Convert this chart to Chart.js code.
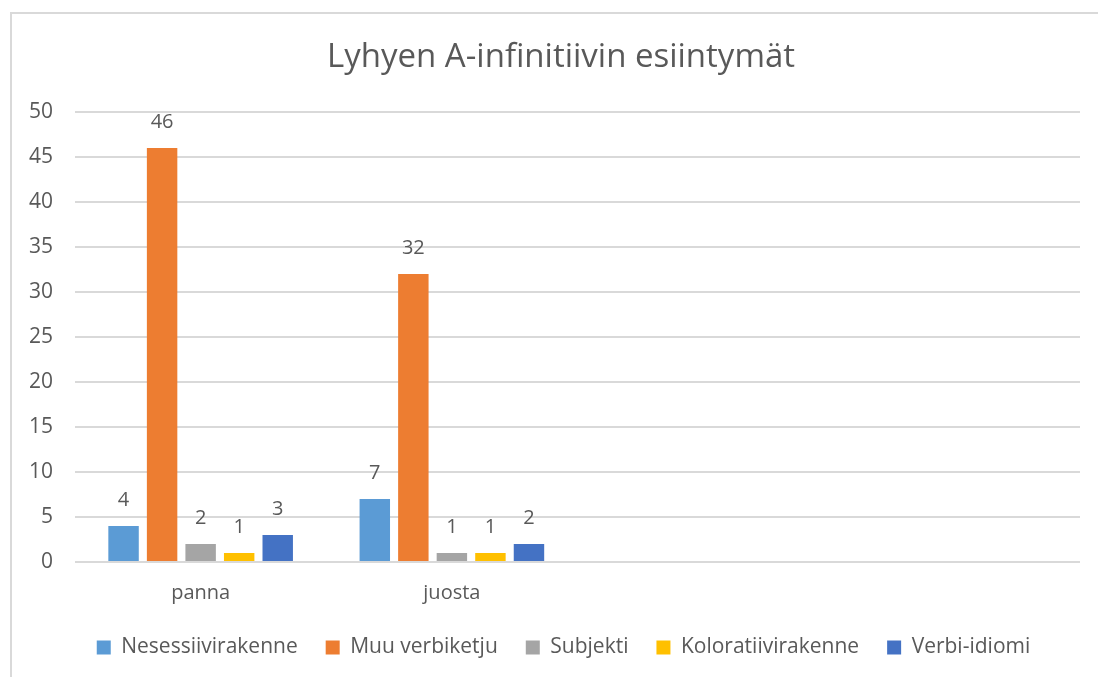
<!DOCTYPE html>
<html>
<head>
<meta charset="utf-8">
<script src="https://cdn.jsdelivr.net/npm/chart.js@4/dist/chart.umd.min.js"></script>
<style>
  html, body { margin: 0; padding: 0; background: #fff; overflow: hidden; }
  #frame { position: absolute; left: 10px; top: 12px; width: 1200px; height: 800px; border: 2px solid #d9d9d9; box-sizing: border-box; pointer-events: none; }
  #wrap { position: absolute; left: 0; top: 0; width: 1098px; height: 677px; }
</style>
</head>
<body>
<div id="wrap"><canvas id="chart"></canvas></div>
<div id="frame"></div>
<script>
const categories = ['panna', 'juosta', '', ''];
const nesessiivi = [4, 7, null, null];
const muuVerbiketju = [46, 32, null, null];
const subjekti = [2, 1, null, null];
const kolorati = [1, 1, null, null];
const verbiIdiomi = [3, 2, null, null];

const titleText = 'Lyhyen A-infinitiivin esiintymät';
const textColor = '#595959';
const fontFamily = '"Open Sans", "Noto Sans", sans-serif';

// values above the bars, the title centred on the frame, legend nudged right
const valueLabels = {
    id: 'valueLabels',
    afterLayout(chart) {
        chart.legend.left += 20;
        chart.legend.right += 20;
    },
    afterDatasetsDraw(chart) {
        const ctx = chart.ctx;
        ctx.save();
        ctx.font = '20px ' + fontFamily;
        ctx.fillStyle = textColor;
        ctx.textAlign = 'center';
        ctx.textBaseline = 'middle';
        chart.data.datasets.forEach((ds, i) => {
            chart.getDatasetMeta(i).data.forEach((bar, j) => {
                const v = ds.data[j];
                if (v === null || v === undefined) return;
                ctx.fillText(String(v), bar.x, bar.y - 26);
            });
        });
        ctx.font = '33px ' + fontFamily;
        ctx.fillText(titleText, 561, 58);
        ctx.restore();
    }
};

const ctx = document.getElementById('chart').getContext('2d');
new Chart(ctx, {
    type: 'bar',
    data: {
        labels: categories,
        datasets: [
            { label: 'Nesessiivirakenne', data: nesessiivi, backgroundColor: '#5B9BD5' },
            { label: 'Muu verbiketju', data: muuVerbiketju, backgroundColor: '#ED7D31' },
            { label: 'Subjekti', data: subjekti, backgroundColor: '#A5A5A5' },
            { label: 'Kolorati­ivirakenne'.replace('\u00ad', ''), data: kolorati, backgroundColor: '#FFC000' },
            { label: 'Verbi-idiomi', data: verbiIdiomi, backgroundColor: '#4472C4' }
        ]
    },
    options: {
        responsive: true,
        maintainAspectRatio: false,
        animation: false,
        datasets: { bar: { categoryPercentage: 0.767, barPercentage: 0.79 } },
        layout: { padding: { left: 7, right: 18, top: 112, bottom: 9 } },
        scales: {
            x: {
                grid: { display: false },
                border: { display: false },
                ticks: { color: textColor, font: { family: fontFamily, size: 20 }, padding: 11 },
                afterFit: (scale) => { scale.height -= 7; }
            },
            y: {
                min: 0, max: 50,
                ticks: { stepSize: 5, color: textColor, font: { family: fontFamily, size: 21 }, padding: 22 },
                grid: { color: '#d9d9d9', lineWidth: 2, drawTicks: false },
                border: { display: false }
            }
        },
        plugins: {
            title: { display: false },
            legend: {
                position: 'bottom',
                labels: {
                    color: textColor,
                    font: { family: fontFamily, size: 21 },
                    boxWidth: 14, boxHeight: 14,
                    padding: 28
                }
            },
            tooltip: { enabled: false }
        }
    },
    plugins: [valueLabels]
});
</script>
</body>
</html>
